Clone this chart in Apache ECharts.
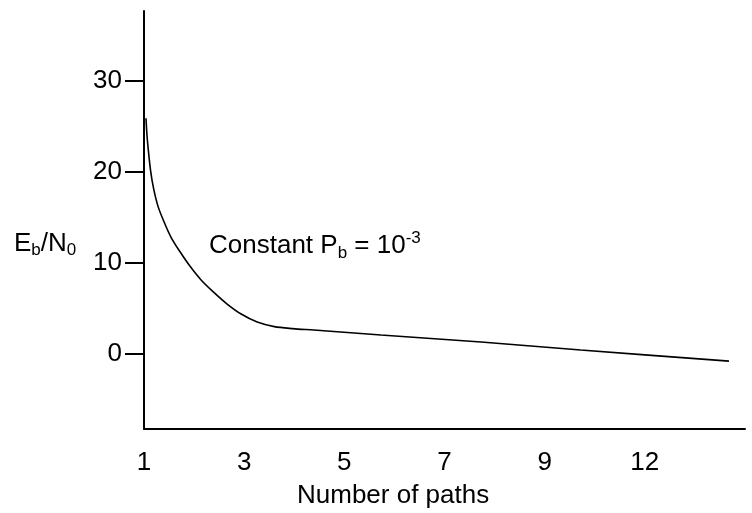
<!DOCTYPE html>
<html>
<head>
<meta charset="utf-8">
<script src="https://cdn.jsdelivr.net/npm/echarts@6/dist/echarts.min.js"></script>
<style>
  html, body { margin: 0; padding: 0; background: #fff; }
  #chart { width: 752px; height: 513px; }
</style>
</head>
<body>
<div id="chart"></div>
<script>
// number of paths (x) vs required Eb/N0 (y)
const paths = [1.04, 1.06, 1.09, 1.13, 1.19, 1.28, 1.40, 1.54, 1.72, 1.92, 2.14, 2.40,
  2.66, 2.94, 3.26, 3.60, 3.97, 4.39, 5.73, 7.73, 9.72, 12.68];
const ebN0 = [25.9, 24.0, 22.2, 20.2, 18.2, 16.2, 14.5, 12.8, 11.2, 9.6, 8.1, 6.7,
  5.45, 4.35, 3.47, 2.97, 2.75, 2.59, 2.04, 1.27, 0.39, -0.83];

const xTickValues = [1, 3, 5, 7, 9, 11];
const xTickLabels = ["1", "3", "5", "7", "9", "12"];
const yTickValues = [0, 10, 20, 30];

const FONT = "Liberation Sans, Arial, sans-serif";

const chart = echarts.init(document.getElementById("chart"));

chart.setOption({
  backgroundColor: "#fff",
  animation: false,
  grid: { left: 144, right: 7, top: 11, bottom: 84 },
  xAxis: {
    type: "value",
    min: 1,
    max: 13,
    axisLine: { onZero: false, lineStyle: { color: "#000", width: 2 } },
    axisTick: { show: false },
    splitLine: { show: false },
    axisLabel: {
      customValues: xTickValues,
      formatter: (v) => xTickLabels[xTickValues.indexOf(v)] ?? "",
      color: "#000",
      fontSize: 26,
      fontFamily: FONT,
      margin: 21,
    },
  },
  yAxis: {
    type: "value",
    min: -8.3,
    max: 37.7,
    axisLine: { show: true, onZero: false, lineStyle: { color: "#000", width: 2 } },
    axisTick: {
      show: true,
      customValues: yTickValues,
      length: 19,
      lineStyle: { color: "#000", width: 2 },
    },
    splitLine: { show: false },
    axisLabel: {
      customValues: yTickValues,
      color: "#000",
      fontSize: 26,
      fontFamily: FONT,
      margin: 22,
    },
  },
  series: [
    {
      type: "line",
      data: paths.map((x, i) => [x, ebN0[i]]),
      smooth: 0.3,
      showSymbol: false,
      lineStyle: { color: "#000", width: 1.6 },
    },
  ],
  graphic: [
    {
      type: "text",
      left: 14,
      top: 231,
      style: {
        text: "{m|E}{s|b}{m|/N}{s|0}",
        rich: {
          m: { fontSize: 26, lineHeight: 30, fontFamily: FONT, fill: "#000" },
          s: { fontSize: 17, lineHeight: 17, verticalAlign: "bottom", fontFamily: FONT, fill: "#000" },
        },
      },
    },
    {
      type: "text",
      left: 209,
      top: 230,
      style: {
        text: "{m|Constant P}{s|b}{m| = 10}{p|-3}",
        rich: {
          m: { fontSize: 26, lineHeight: 32, fontFamily: FONT, fill: "#000" },
          s: { fontSize: 17, lineHeight: 17, verticalAlign: "bottom", fontFamily: FONT, fill: "#000" },
          p: { fontSize: 17, lineHeight: 17, verticalAlign: "top", fontFamily: FONT, fill: "#000" },
        },
      },
    },
    {
      type: "text",
      left: 297,
      top: 483,
      style: { text: "Number of paths", fontSize: 26, fontFamily: FONT, fill: "#000" },
    },
  ],
});
</script>
</body>
</html>
